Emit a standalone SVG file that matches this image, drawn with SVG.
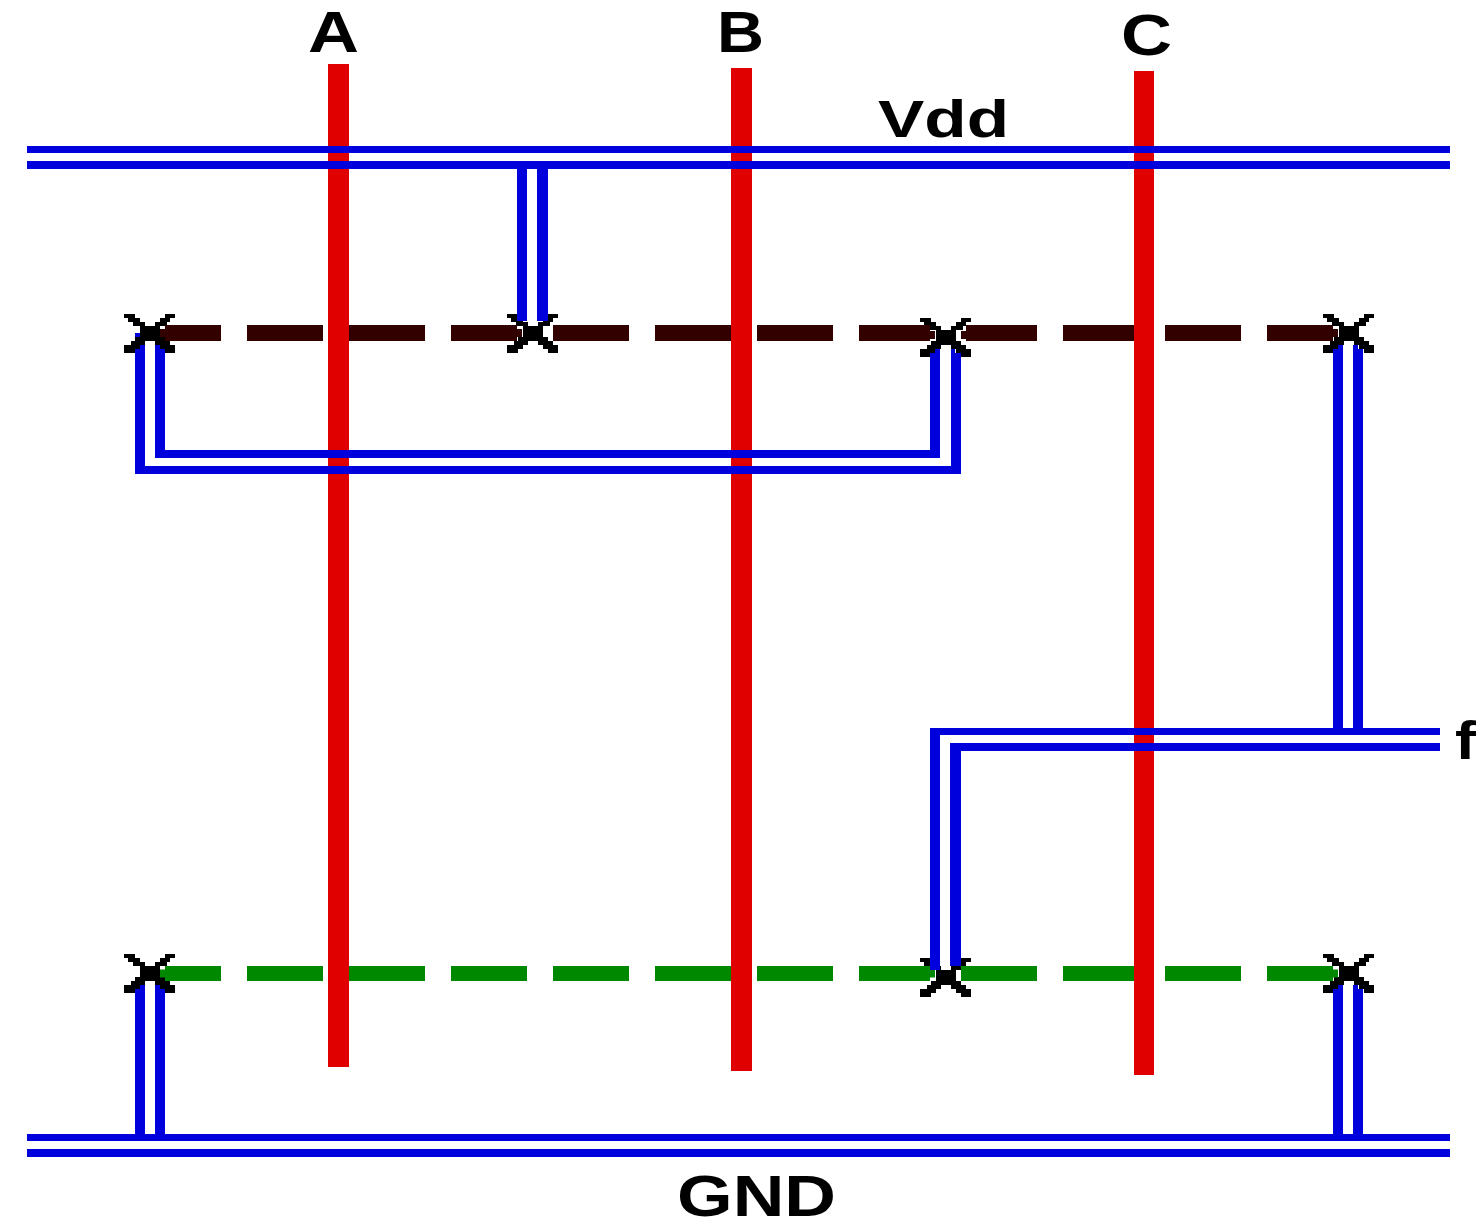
<svg xmlns="http://www.w3.org/2000/svg" width="1476" height="1219" viewBox="0 0 1476 1219">
<style>
.lbl{font-family:"Liberation Sans",Arial,sans-serif;font-weight:700;fill:#000}
.poly{fill:#e00000}
.metal{fill:#0000dd}
.dash{fill:none;stroke-linecap:butt}
.pd{stroke:#330000}
.nd{stroke:#008800}
.x{fill:#000}
</style>
<defs>
<path id="cross" d="M0 0H11V4H0ZM41 0H51V4H41ZM4 4H16V8H4ZM36 4H46V8H36ZM9 8H21V12H9ZM31 8H43V12H31ZM16 12H36V23H16ZM11 23H41V27H11ZM7 27H21V31H7ZM31 27H46V31H31ZM0 31H16V35H0ZM36 31H51V35H36ZM0 35H11V39H0ZM41 35H51V39H41Z"/>
</defs>
<rect width="1476" height="1219" fill="#fff"/>
<g id="contact-p1" class="x"><use href="#cross" x="124" y="314"/></g>
<g id="contact-p2" class="x"><use href="#cross" x="507" y="314"/></g>
<g id="contact-p3" class="x"><use href="#cross" x="920" y="318"/></g>
<g id="contact-p4" class="x"><use href="#cross" x="1323" y="314"/></g>
<g id="contact-n1" class="x"><use href="#cross" x="124" y="954"/></g>
<g id="contact-n2" class="x"><use href="#cross" x="920" y="958"/></g>
<g id="contact-n3" class="x"><use href="#cross" x="1323" y="954"/></g>
<g id="connectors">
<path class="dash pd" stroke-width="16" d="M165 333H221M247 333H323M349 333H425M451 333H517M553 333H629M655 333H731M757 333H833M859 333H930M966 333H1037M1063 333H1139M1165 333H1241M1267 333H1333"/>
<path class="dash pd" stroke-width="8" d="M160 333H165M517 333H522M930 335H935M961 335H966M1333 333H1338"/>
<path class="dash nd" stroke-width="15" d="M165 973.500H221M247 973.500H323M349 973.500H425M451 973.500H527M553 973.500H629M655 973.500H731M757 973.500H833M859 973.500H930M961 973.500H1037M1063 973.500H1139M1165 973.500H1241M1267 973.500H1333"/>
<path class="dash nd" stroke-width="8" d="M160 973.500H165M930 973.500H935M1333 973.500H1338"/>
<rect class="poly" x="328" y="64" width="21" height="1003"/>
<rect class="poly" x="731" y="68" width="21" height="1003"/>
<rect class="poly" x="1134" y="71" width="20" height="1004"/>
<path class="metal" d="M27 146H1450V153H27ZM27 161H1450V169H27Z"/>
<path class="metal" d="M27 1134H1450V1141H27ZM27 1149H1450V1157H27Z"/>
<path class="metal" d="M517 169H527V321H517ZM537 169H548V321H537Z"/>
<path class="metal" d="M135 333H140V337H135ZM135 349H140V345H145V466H951V349H955V353H961V474H135Z"/>
<path class="metal" d="M155 345H160V349H165V450H930V353H935V349H940V458H155Z"/>
<path class="metal" d="M1333 349H1338V345H1343V728H1333ZM1353 345H1358V349H1363V728H1353Z"/>
<path class="metal" d="M930 970V728H1440V735H940V970Z"/>
<path class="metal" d="M950 966V743H1440V751H961V966Z"/>
<path class="metal" d="M135 989H140V985H145V1134H135ZM155 985H160V989H165V1134H155Z"/>
<path class="metal" d="M1333 989H1338V985H1343V1134H1333ZM1353 985H1358V989H1363V1134H1353Z"/>
</g>
<g id="label-A"><text class="lbl" x="308" y="52" font-size="57" textLength="51" lengthAdjust="spacingAndGlyphs">A</text></g>
<g id="label-B"><text class="lbl" x="717" y="52" font-size="57" textLength="47" lengthAdjust="spacingAndGlyphs">B</text></g>
<g id="label-C"><text class="lbl" x="1121" y="55" font-size="57" textLength="51" lengthAdjust="spacingAndGlyphs">C</text></g>
<g id="label-Vdd"><text class="lbl" x="878" y="137" font-size="51" textLength="131" lengthAdjust="spacingAndGlyphs">Vdd</text></g>
<g id="label-f"><text class="lbl" x="1455" y="759" font-size="54" textLength="21" lengthAdjust="spacingAndGlyphs">f</text></g>
<g id="label-GND"><text class="lbl" x="677" y="1216" font-size="57" textLength="159" lengthAdjust="spacingAndGlyphs">GND</text></g>
</svg>
